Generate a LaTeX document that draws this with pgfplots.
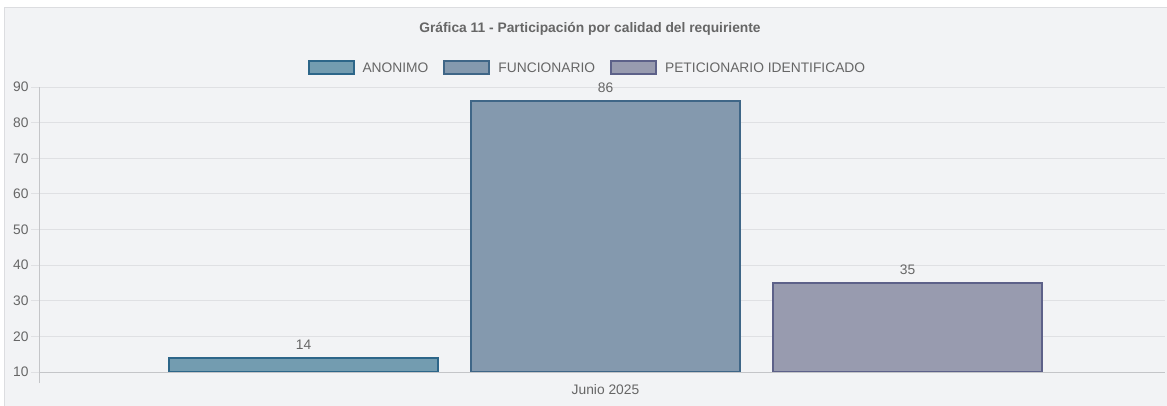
\documentclass[border=0pt]{standalone}
\usepackage{pgfplots}
\pgfplotsset{compat=1.18}
\usepackage{fontspec}
\setmainfont{Liberation Sans}
\definecolor{bgc}{HTML}{F2F3F5}
\definecolor{frame}{HTML}{DCDDE0}
\definecolor{txt}{HTML}{666666}
\definecolor{gridc}{HTML}{DFE0E3}
\definecolor{axc}{HTML}{C4C5C8}
\definecolor{fA}{HTML}{739CB0}
\definecolor{dA}{HTML}{2D6689}
\definecolor{fB}{HTML}{8499AE}
\definecolor{dB}{HTML}{3F6687}
\definecolor{fC}{HTML}{989BAF}
\definecolor{dC}{HTML}{5D6189}
\newcommand{\fs}{\fontsize{13.8}{16}\selectfont}
\begin{document}
\begin{tikzpicture}[x=1pt,y=1pt]
\useasboundingbox (0,0) rectangle (1167,405);
\fill[white] (0,0) rectangle (1167,405);
\filldraw[fill=bgc,draw=frame,line width=1pt] (4,-5) rectangle (1180,397);
\node[font=\fs\bfseries,text=txt] at (590,376) {Gráfica 11 - Participación por calidad del requiriente};
\draw[axc,line width=0.8pt] (39,22) -- (39,33);
\begin{axis}[
  at={(39pt,33pt)}, anchor=south west,
  scale only axis, width=1126pt, height=285pt,
  xmin=39, xmax=1165, ymin=10, ymax=90,
  ytick={10,20,...,90},
  xtick={605.5}, xticklabels={Junio 2025},
  /pgf/number format/assume math mode=true,
  ticklabel style={font=\fs, text=txt},
  ymajorgrids, grid style={gridc, line width=0.8pt},
  axis x line*=bottom, axis y line*=left,
  axis line style={axc, line width=0.8pt},
  y axis line style={-}, x axis line style={-},
  ytick style={gridc, line width=0.8pt},
  major tick length=8pt,
  tick align=outside,
  xtick style={draw=none},
  xticklabel style={yshift=-1pt},
  yticklabel style={xshift=1pt},
  ybar, bar width=269,
  nodes near coords,
  every node near coord/.append style={font=\fs, text=txt, yshift=4pt},
  legend columns=-1,
  legend style={draw=none, fill=none, at={(0.487,1.0667)}, anchor=center,
    font=\fs, text=txt,
    /tikz/every even column/.append style={column sep=13pt},
    /tikz/every odd column/.append style={column sep=6pt}},
  legend image code/.code={\draw[#1, line width=2pt] (0pt,-6pt) rectangle (45pt,7pt);},
  clip=true,
]
\addplot[bar shift=0pt, fill=fA, draw=dA, line width=2pt] coordinates {(303.5,14)};
\addplot[bar shift=0pt, fill=fB, draw=dB, line width=2pt] coordinates {(605.5,86)};
\addplot[bar shift=0pt, fill=fC, draw=dC, line width=2pt] coordinates {(907.5,35)};
\legend{ANONIMO, FUNCIONARIO, PETICIONARIO IDENTIFICADO}
\end{axis}
\draw[axc,line width=1pt] (39,33) -- (1165,33);
\end{tikzpicture}
\end{document}
